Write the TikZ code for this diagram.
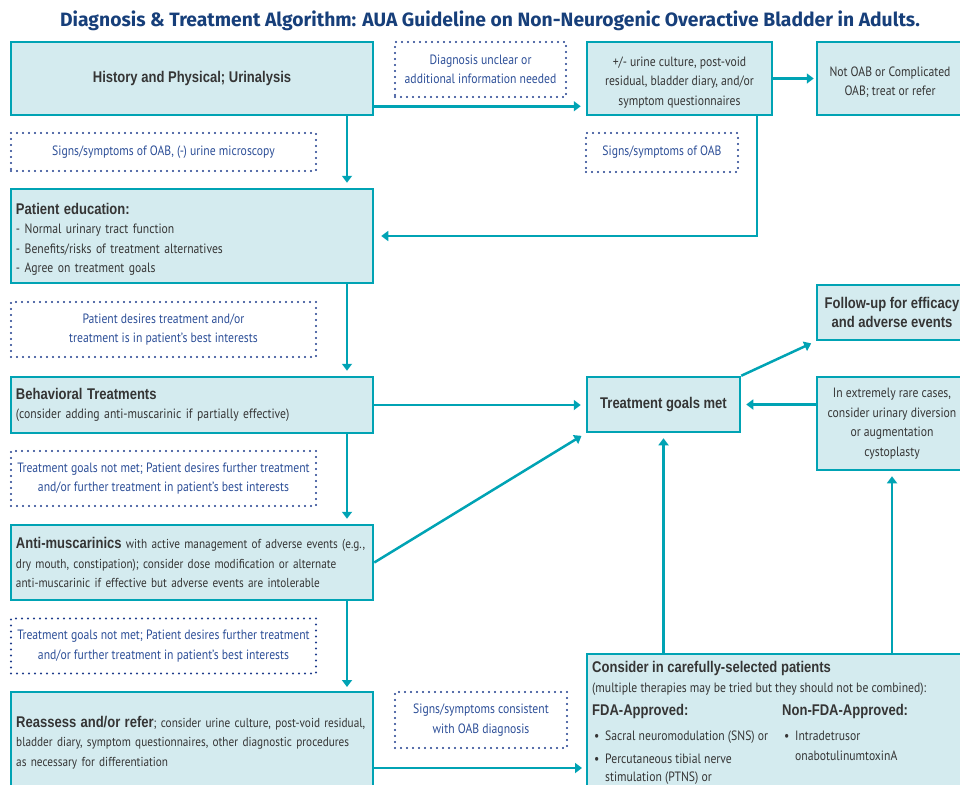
\documentclass[tikz,border=0pt]{standalone}
\usepackage{fontspec}
\setmainfont{PT Sans}[FakeStretch=0.865]
\newfontfamily\oabheadfont{Liberation Sans}[FakeStretch=0.84]
\newfontfamily\oabtitlefont{Fira Sans}
\usetikzlibrary{arrows.meta}
\definecolor{oabteal}{HTML}{00A3B4}
\definecolor{oabfill}{HTML}{D4EBEF}
\definecolor{oabtext}{HTML}{353535}
\definecolor{oabblue}{HTML}{2C4E97}
\definecolor{oabdot}{HTML}{1E3C8C}
\definecolor{oabtitle}{HTML}{173F7A}
\newcommand\oabhd[1]{{\oabheadfont\bfseries\fontsize{15.5}{19.5}\selectfont #1}}
\tikzset{
  every node/.style={font=\fontsize{13.5}{19.5}\selectfont},
  box/.style={draw=oabteal, fill=oabfill, line width=2.5pt, inner sep=0pt, text=oabtext, align=center},
  leftbox/.style={box, text width=352pt, align=left},
  note/.style={draw=oabdot, line width=2.2pt, dash pattern=on 0pt off 6pt, line cap=round, text=oabblue, inner sep=0pt, align=center},
  plaintext/.style={inner sep=0pt, text=oabtext, align=left, anchor=north west},
  arr/.style={draw=oabteal, line width=2.5pt, -{Triangle[length=7pt,width=10pt]}, shorten >=5pt},
}
\begin{document}
\begin{tikzpicture}[x=1pt,y=-1pt]
\useasboundingbox (0,0) rectangle (960,784);
\clip (0,0) rectangle (960,784);

\node[text=oabtitle, font=\oabtitlefont\bfseries\fontsize{19.3}{22}\selectfont] (title) at (490,21) {Diagnosis \& Treatment Algorithm: AUA Guideline on Non-Neurogenic Overactive Bladder in Adults.};

% top row
\node[box, minimum width=362pt, minimum height=73pt] (hp) at (192,78.5) {\oabhd{History and Physical; Urinalysis}};
\node[note, minimum width=171pt, minimum height=55pt] (diag) at (480.5,69.5) {Diagnosis unclear or\\additional information needed};
\node[box, minimum width=185pt, minimum height=73pt] (urine) at (679.5,78.5) {\\[-2pt]+/- urine culture, post-void\\residual, bladder diary, and/or\\symptom questionnaires};
\node[box, minimum width=146pt, minimum height=73pt] (notoab) at (890,78.5) {\\[-2pt]Not OAB or Complicated\\OAB; treat or refer};

\node[note, minimum width=305pt, minimum height=38pt] (n1) at (163.5,152) {Signs/symptoms of OAB, (-) urine microscopy};
\node[note, minimum width=152pt, minimum height=39pt] (n5) at (662,152.5) {Signs/symptoms of OAB};

\node[leftbox, minimum width=362pt, minimum height=94pt] (pe) at (192,236) {\\[-2pt]\oabhd{Patient education:}\\- Normal urinary tract function\\- Benefits/risks of treatment alternatives\\- Agree on treatment goals};

\node[note, minimum width=305pt, minimum height=55pt] (n2) at (163.5,329.5) {Patient desires treatment and/or\\treatment is in patient’s best interests};

\node[leftbox, minimum width=362pt, minimum height=56pt] (behav) at (192,405) {\oabhd{Behavioral Treatments}\\(consider adding anti-muscarinic if partially effective)};

\node[box, minimum width=153pt, minimum height=55pt] (tgm) at (663.5,404.5) {\oabhd{Treatment goals met}};
\node[box, minimum width=150pt, minimum height=55pt] (follow) at (892,312.5) {\oabhd{Follow-up for efficacy}\\\oabhd{and adverse events}};
\node[box, minimum width=150pt, minimum height=93pt] (rare) at (892,423.5) {In extremely rare cases,\\consider urinary diversion\\or augmentation\\cystoplasty};

\node[note, minimum width=305pt, minimum height=55pt] (n3) at (163.5,478.5) {Treatment goals not met; Patient desires further treatment\\and/or further treatment in patient’s best interests};

\node[leftbox, minimum width=362pt, minimum height=75pt, font=\fontsize{13}{19.5}\selectfont] (anti) at (192,562.5) {\mbox{\oabhd{Anti-muscarinics} with active management of adverse events (e.g.,}\\dry mouth, constipation); consider dose modification or alternate\\anti-muscarinic if effective but adverse events are intolerable};

\node[note, minimum width=305pt, minimum height=55pt] (n4) at (163.5,646) {Treatment goals not met; Patient desires further treatment\\and/or further treatment in patient’s best interests};

% bottom boxes (cut by the page edge)
\node[box, outer sep=0pt, anchor=north west, minimum width=362pt, minimum height=112pt] (re) at (11,692) {};
\node[plaintext, text width=352pt, font=\fontsize{13}{19.5}\selectfont] (ret) at (16,716) {\mbox{\oabhd{Reassess and/or refer}; consider urine culture, post-void residual,}\\\mbox{bladder diary, symptom questionnaires, other diagnostic procedures}\\as necessary for differentiation};

\node[note, minimum width=172pt, minimum height=56pt] (n6) at (481,720) {Signs/symptoms consistent\\with OAB diagnosis};

\node[box, outer sep=0pt, anchor=north west, minimum width=378pt, minimum height=150pt] (cons) at (587,654) {};
\node[plaintext] (conshead) at (592,661) {\oabhd{Consider in carefully-selected patients}\\[1pt](multiple therapies may be tried but they should not be combined):};
\node[plaintext] (fda) at (592,704) {\oabhd{FDA-Approved:}\\[6pt]\hspace*{2pt}\makebox[11pt][l]{•}Sacral neuromodulation (SNS) or\\[3.5pt]\hspace*{2pt}\makebox[11pt][l]{•}Percutaneous tibial nerve\\[-2pt]\hspace*{13pt}stimulation (PTNS) or};
\node[plaintext] (nonfda) at (782,704) {\oabhd{Non-FDA-Approved:}\\[6pt]\hspace*{2pt}\makebox[11pt][l]{•}Intradetrusor\\\hspace*{13pt}onabotulinumtoxinA};

% connectors
\draw[arr] ([yshift=10pt]hp.south east) coordinate (a1) -- (a1 -| urine.west);
\draw[arr, shorten >=2pt] (urine.east) -- (notoab.west);
\draw[arr] ([xshift=155pt]hp.south) -- ([xshift=155pt]pe.north);
\draw[arr, shorten >=7pt] ([xshift=77.5pt]urine.south) |- (pe.east);
\draw[arr] ([xshift=155pt]pe.south) -- ([xshift=155pt]behav.north);
\draw[arr] (behav.east) -- (behav.east -| tgm.west);
\draw[arr] ([xshift=155pt]behav.south) -- ([xshift=155pt]anti.north);
\draw[arr] (anti.east) -- (tgm.south west);
\draw[arr] ([xshift=155pt]anti.south) -- ([xshift=155pt]re.north);
\draw[arr] ([yshift=-76pt]re.north east) coordinate (a2) -- (a2 -| cons.west);
\draw[arr] (cons.north -| tgm.south) -- (tgm.south);
\draw[arr] (cons.north -| rare.south) -- (rare.south);
\draw[arr] (tgm.north east) -- (follow.south west);
\draw[arr] (rare.west |- tgm.east) -- (tgm.east);
\end{tikzpicture}
\end{document}
